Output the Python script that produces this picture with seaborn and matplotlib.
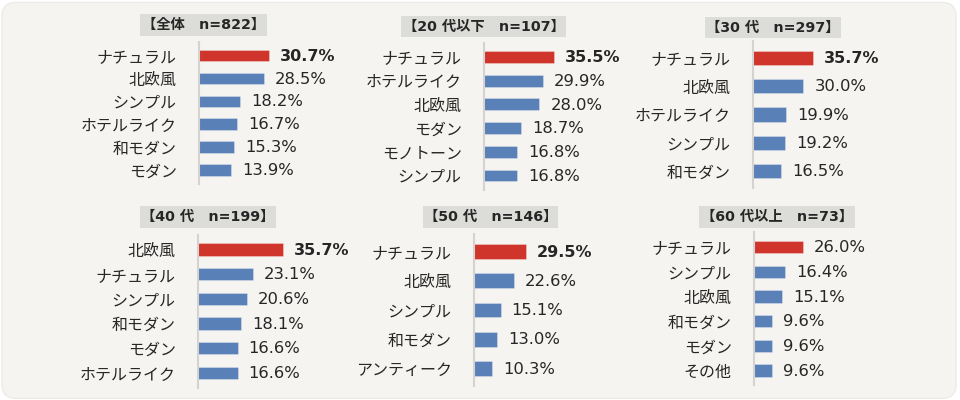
import pandas as pd
import seaborn as sns
import matplotlib.pyplot as plt
from matplotlib.patches import FancyBboxPatch, Rectangle

# Data per panel
titles = ["【全体　n=822】", "【20 代以下　n=107】", "【30 代　n=297】",
          "【40 代　n=199】", "【50 代　n=146】", "【60 代以上　n=73】"]

cats_all = ["ナチュラル", "北欧風", "シンプル", "ホテルライク", "和モダン", "モダン"]
vals_all = [30.7, 28.5, 18.2, 16.7, 15.3, 13.9]

cats_20 = ["ナチュラル", "ホテルライク", "北欧風", "モダン", "モノトーン", "シンプル"]
vals_20 = [35.5, 29.9, 28.0, 18.7, 16.8, 16.8]

cats_30 = ["ナチュラル", "北欧風", "ホテルライク", "シンプル", "和モダン"]
vals_30 = [35.7, 30.0, 19.9, 19.2, 16.5]

cats_40 = ["北欧風", "ナチュラル", "シンプル", "和モダン", "モダン", "ホテルライク"]
vals_40 = [35.7, 23.1, 20.6, 18.1, 16.6, 16.6]

cats_50 = ["ナチュラル", "北欧風", "シンプル", "和モダン", "アンティーク"]
vals_50 = [29.5, 22.6, 15.1, 13.0, 10.3]

cats_60 = ["ナチュラル", "シンプル", "北欧風", "和モダン", "モダン", "その他"]
vals_60 = [26.0, 16.4, 15.1, 9.6, 9.6, 9.6]

top_bold = [True, True, True, True, True, False]

panels = [(cats_all, vals_all), (cats_20, vals_20), (cats_30, vals_30),
          (cats_40, vals_40), (cats_50, vals_50), (cats_60, vals_60)]

# layout in pixels: axis x, first bar center y, bar spacing, px per %, title box (x0, x1, y0, y1)
layout = [
    (199, 55.5, 22.9, 2.28, (140, 267, 14, 36)),
    (484, 57.0, 23.7, 1.97, (401, 566, 16, 37)),
    (753, 58.0, 28.25, 1.68, (705, 841, 17, 38)),
    (198, 249.5, 24.7, 2.38, (140, 276, 206, 228)),
    (474, 251.5, 29.25, 1.76, (423, 558, 206, 228)),
    (754, 247.0, 24.7, 1.88, (699, 855, 206, 228)),
]

RED = "#cf352b"
BLUE = "#5a80b8"
TXT = "#262626"
W, H = 960, 400
NUM_FONT = ['DejaVu Sans', 'Noto Sans CJK JP']

sns.set_theme(style="white")
plt.rcParams['font.family'] = ['Noto Sans CJK JP', 'DejaVu Sans']

fig = plt.figure(figsize=(9.6, 4), dpi=100)
fig.patch.set_facecolor("white")
bg = FancyBboxPatch((0.002, 0.004), 0.994, 0.99, boxstyle="round,pad=0,rounding_size=0.015",
                    transform=fig.transFigure, facecolor="#f5f4f1", edgecolor="#ecebe8",
                    linewidth=1, mutation_aspect=2.4, zorder=-10)
fig.patches.append(bg)

for i, ((cats, vals), (ax_x, c0, sp, scale, tb)) in enumerate(zip(panels, layout)):
    n = len(cats)
    top = c0 - 0.6 * sp
    bottom = c0 + (n - 1) * sp + 0.6 * sp
    aw = 150
    ax = fig.add_axes([ax_x / W, 1 - bottom / H, aw / W, (bottom - top) / H])
    df = pd.DataFrame({"cat": cats, "val": vals})
    colors = [RED] + [BLUE] * (n - 1)
    sns.barplot(data=df, x="val", y="cat", hue="cat", palette=colors, legend=False,
                orient="h", width=0.5, ax=ax, saturation=1,
                edgecolor="#ffffff55", linewidth=0.6)
    ax.set_xlim(0, aw / scale)
    ax.set_ylim(n - 1 + 0.6, -0.6)
    ax.set_facecolor("none")
    for s in ["top", "right", "bottom"]:
        ax.spines[s].set_visible(False)
    ax.spines["left"].set_color("#d4d3d0")
    ax.spines["left"].set_linewidth(1.5)
    ax.set_xticks([])
    ax.set_xlabel("")
    ax.set_ylabel("")
    ax.tick_params(axis="y", length=0, pad=16, labelsize=11.5, labelcolor=TXT)
    for j, v in enumerate(vals):
        bold = (j == 0 and top_bold[i])
        ax.annotate(f"{v:.1f}%", (v, j), xytext=(8, -0.5), textcoords="offset points",
                    va="center", ha="left", fontsize=11.5 if bold else 11.8, color=TXT,
                    family=NUM_FONT, fontweight="bold" if bold else "normal")
    # title box
    x0, x1, y0, y1 = tb
    fig.patches.append(Rectangle((x0 / W, 1 - y1 / H), (x1 - x0) / W, (y1 - y0) / H,
                                 transform=fig.transFigure, facecolor="#dcdcd9", edgecolor="none"))
    fig.text((x0 + x1) / 2 / W, 1 - (y0 + y1) / 2 / H, titles[i], ha="center", va="center",
             fontsize=10.3, fontweight="bold", color=TXT, family=NUM_FONT)

fig.savefig("out.png", dpi=100, facecolor=fig.get_facecolor())
